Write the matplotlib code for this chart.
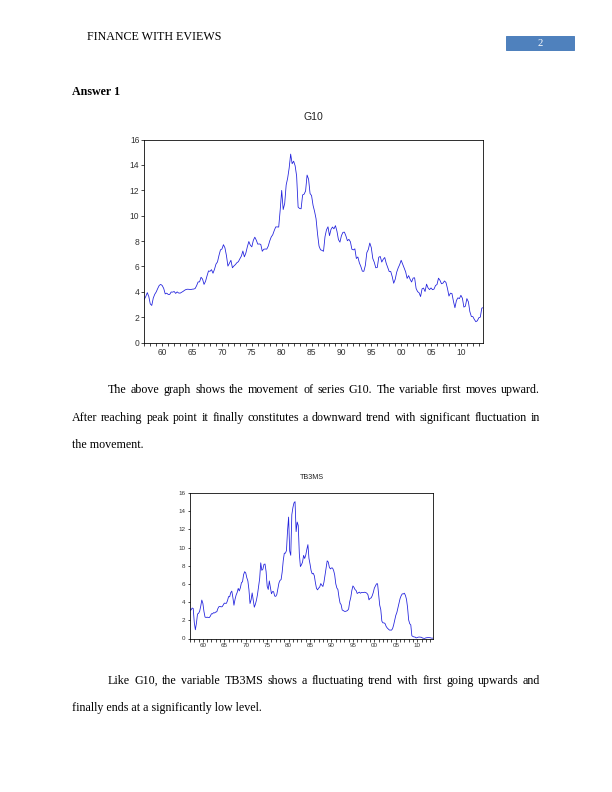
import numpy as np
import matplotlib
matplotlib.use("Agg")
import matplotlib.pyplot as plt
from matplotlib.ticker import MultipleLocator, FixedLocator

# quarterly series, 1957Q1 - 2013Q4
g10 = [3.40, 3.63, 3.93, 3.63, 3.04, 2.92, 3.50, 3.80, 3.99, 4.26, 4.50, 4.58,
       4.49, 4.26, 3.83, 3.89, 3.79, 3.79, 3.98, 3.97, 4.02, 3.87, 3.99, 3.90,
       3.89, 3.96, 4.03, 4.12, 4.18, 4.20, 4.19, 4.17, 4.20, 4.21, 4.25, 4.47,
       4.77, 4.78, 5.14, 5.00, 4.58, 4.82, 5.25, 5.64, 5.61, 5.74, 5.46, 5.77,
       6.18, 6.35, 6.86, 7.30, 7.37, 7.71, 7.46, 6.85, 6.02, 6.25, 6.48, 5.89,
       6.03, 6.14, 6.29, 6.37, 6.60, 6.81, 7.21, 6.75, 7.05, 7.54, 7.96, 7.67,
       7.54, 8.05, 8.30, 8.06, 7.75, 7.77, 7.73, 7.19, 7.35, 7.37, 7.36, 7.60,
       8.01, 8.32, 8.49, 8.82, 9.11, 9.11, 9.10, 10.45, 11.99, 10.48, 10.95, 12.42,
       12.96, 13.75, 14.85, 14.09, 14.29, 13.93, 13.12, 10.67, 10.56, 10.54, 11.63, 11.69,
       11.94, 13.20, 12.87, 11.74, 11.58, 10.81, 10.34, 9.76, 8.56, 7.60, 7.31, 7.26,
       7.19, 8.34, 8.88, 9.12, 8.42, 8.91, 9.10, 8.96, 9.21, 8.77, 8.11, 7.91,
       8.42, 8.68, 8.70, 8.40, 8.02, 8.13, 7.94, 7.35, 7.30, 7.38, 6.62, 6.74,
       6.28, 5.99, 5.62, 5.61, 6.07, 7.08, 7.33, 7.84, 7.48, 6.62, 6.32, 5.89,
       5.91, 6.72, 6.78, 6.34, 6.56, 6.70, 6.24, 5.91, 5.59, 5.60, 5.20, 4.67,
       4.98, 5.54, 5.88, 6.14, 6.48, 6.18, 5.89, 5.57, 5.05, 5.27, 4.98, 4.77,
       5.08, 5.10, 4.26, 4.01, 3.92, 3.62, 4.23, 4.29, 4.02, 4.60, 4.30, 4.17,
       4.30, 4.16, 4.21, 4.49, 4.57, 5.07, 4.90, 4.63, 4.68, 4.85, 4.73, 4.26,
       3.66, 3.89, 3.86, 3.25, 2.74, 3.31, 3.52, 3.46, 3.72, 3.49, 2.79, 2.86,
       3.46, 3.21, 2.43, 2.05, 2.04, 1.82, 1.64, 1.71, 1.95, 2.00, 2.71, 2.75]

tb3ms = [3.10, 3.14, 3.35, 3.30, 1.76, 0.96, 1.68, 2.69, 2.77, 3.00, 3.54, 4.23,
         3.87, 2.99, 2.36, 2.31, 2.35, 2.30, 2.30, 2.46, 2.72, 2.71, 2.84, 2.81,
         2.91, 2.94, 3.29, 3.50, 3.53, 3.48, 3.50, 3.68, 3.89, 3.87, 3.87, 4.17,
         4.61, 4.59, 5.04, 5.21, 4.51, 3.66, 4.30, 4.77, 5.06, 5.51, 5.23, 5.58,
         6.14, 6.24, 7.02, 7.35, 7.21, 6.68, 6.33, 5.35, 3.84, 4.25, 5.01, 4.23,
         3.44, 3.77, 4.22, 4.86, 5.70, 6.60, 8.32, 7.50, 7.62, 8.15, 8.19, 7.36,
         5.75, 5.39, 6.33, 5.63, 4.92, 5.16, 5.15, 4.67, 4.63, 4.84, 5.50, 6.11,
         6.39, 6.48, 7.31, 8.57, 9.38, 9.38, 9.67, 11.84, 13.35, 9.62, 9.15, 13.61,
         14.39, 14.91, 15.05, 11.75, 12.81, 12.42, 9.32, 7.91, 8.11, 8.40, 9.14, 8.80,
         9.17, 9.80, 10.32, 8.80, 8.18, 7.46, 7.11, 7.17, 6.90, 6.14, 5.52, 5.35,
         5.54, 5.66, 6.04, 5.86, 5.72, 6.21, 7.01, 7.73, 8.54, 8.41, 7.84, 7.65,
         7.76, 7.75, 7.48, 6.99, 6.02, 5.56, 5.38, 4.54, 3.90, 3.72, 3.13, 3.08,
         2.99, 2.98, 3.02, 3.08, 3.25, 4.04, 4.51, 5.28, 5.78, 5.62, 5.38, 5.27,
         4.95, 5.03, 5.10, 4.98, 5.06, 5.05, 5.05, 5.09, 5.05, 4.98, 4.82, 4.25,
         4.42, 4.46, 4.70, 5.06, 5.54, 5.78, 6.01, 6.02, 4.82, 3.66, 3.17, 1.91,
         1.72, 1.72, 1.64, 1.33, 1.16, 1.04, 0.93, 0.92, 0.92, 1.08, 1.49, 2.01,
         2.54, 2.86, 3.36, 3.83, 4.39, 4.70, 4.91, 4.90, 4.98, 4.74, 4.30, 3.39,
         2.04, 1.63, 1.49, 0.30, 0.22, 0.17, 0.16, 0.06, 0.11, 0.15, 0.16, 0.14,
         0.13, 0.05, 0.02, 0.01, 0.07, 0.09, 0.10, 0.09, 0.09, 0.05, 0.03, 0.06]

year_ticks = [1960, 1965, 1970, 1975, 1980, 1985, 1990, 1995, 2000, 2005, 2010]
year_labels = ["60", "65", "70", "75", "80", "85", "90", "95", "00", "05", "10"]
y_ticks = [0, 2, 4, 6, 8, 10, 12, 14, 16]

quarters = 1957 + np.arange(len(g10)) / 4.0

W, H = 612, 792
fig = plt.figure(figsize=(W / 72, H / 72), dpi=72)
fig.patch.set_facecolor("white")

serif = "Liberation Serif"
sans = "Liberation Sans"


def px(x, y):
    return x / W, 1 - y / H


def eviews_chart(rect, series, title, tick_fs, title_fs, title_y, tlen):
    ax = fig.add_axes(rect)
    ax.plot(quarters, series, color="#2222dd", lw=0.8)
    ax.set_xlim(1957, quarters[-1])
    ax.set_ylim(0, 16)
    ax.xaxis.set_major_locator(FixedLocator(year_ticks))
    ax.set_xticklabels(year_labels)
    ax.xaxis.set_minor_locator(MultipleLocator(1))
    ax.set_yticks(y_ticks)
    ax.tick_params(axis="both", which="both", direction="out", length=tlen,
                   width=0.7, labelsize=tick_fs, labelcolor="#333333", pad=2)
    for lab in ax.get_xticklabels() + ax.get_yticklabels():
        lab.set_fontfamily(sans)
    for s in ax.spines.values():
        s.set_linewidth(0.8)
    fig.text(*px(*title_y), title, ha="center", va="center",
             fontsize=title_fs, family=sans, color="#222222")
    return ax


eviews_chart([144.3 / W, 1 - 342.5 / H, 339 / W, 203 / H], g10, "G10",
             8.5, 10.5, (313.3, 117.5), 3)
eviews_chart([190 / W, 1 - 638.5 / H, 243.3 / W, 145.5 / H], tb3ms, "TB3MS",
             6.2, 7.2, (311.7, 477.5), 2.5)

# header
fig.text(*px(87, 40), "FINANCE WITH EVIEWS", fontsize=12, family=serif,
         va="baseline")
fig.patches.append(plt.Rectangle(px(506, 50), 68 / W, 14 / H,
                                 transform=fig.transFigure,
                                 color="#4f81bd", zorder=0))
fig.text(*px(537, 43.5), "2", fontsize=10.5, family=serif,
         color="white", va="center")
fig.text(*px(72, 95.3), "Answer 1", fontsize=12, family=serif,
         weight="bold", va="baseline")

renderer = fig.canvas.get_renderer()


def justified(words, x0, x1, y):
    arts = [fig.text(0, 0, w, fontsize=12, family=serif, va="baseline")
            for w in words.split()]
    widths = [a.get_window_extent(renderer).width for a in arts]
    gap = (x1 - x0 - sum(widths)) / (len(arts) - 1)
    x = x0
    for a, w in zip(arts, widths):
        a.set_position(px(x, y))
        x += w + gap


def plain(words, x0, y):
    fig.text(*px(x0, y), words, fontsize=12, family=serif, va="baseline")


justified("The above graph shows the movement of series G10. The variable first moves upward.",
          108, 540, 393.3)
justified("After reaching peak point it finally constitutes a downward trend with significant fluctuation in",
          72, 540, 420.8)
plain("the movement.", 72, 448.3)

justified("Like G10, the variable TB3MS shows a fluctuating trend with first going upwards and",
          108, 540, 684)
plain("finally ends at a significantly low level.", 72, 711.5)

fig.savefig("out.png", dpi=72)
